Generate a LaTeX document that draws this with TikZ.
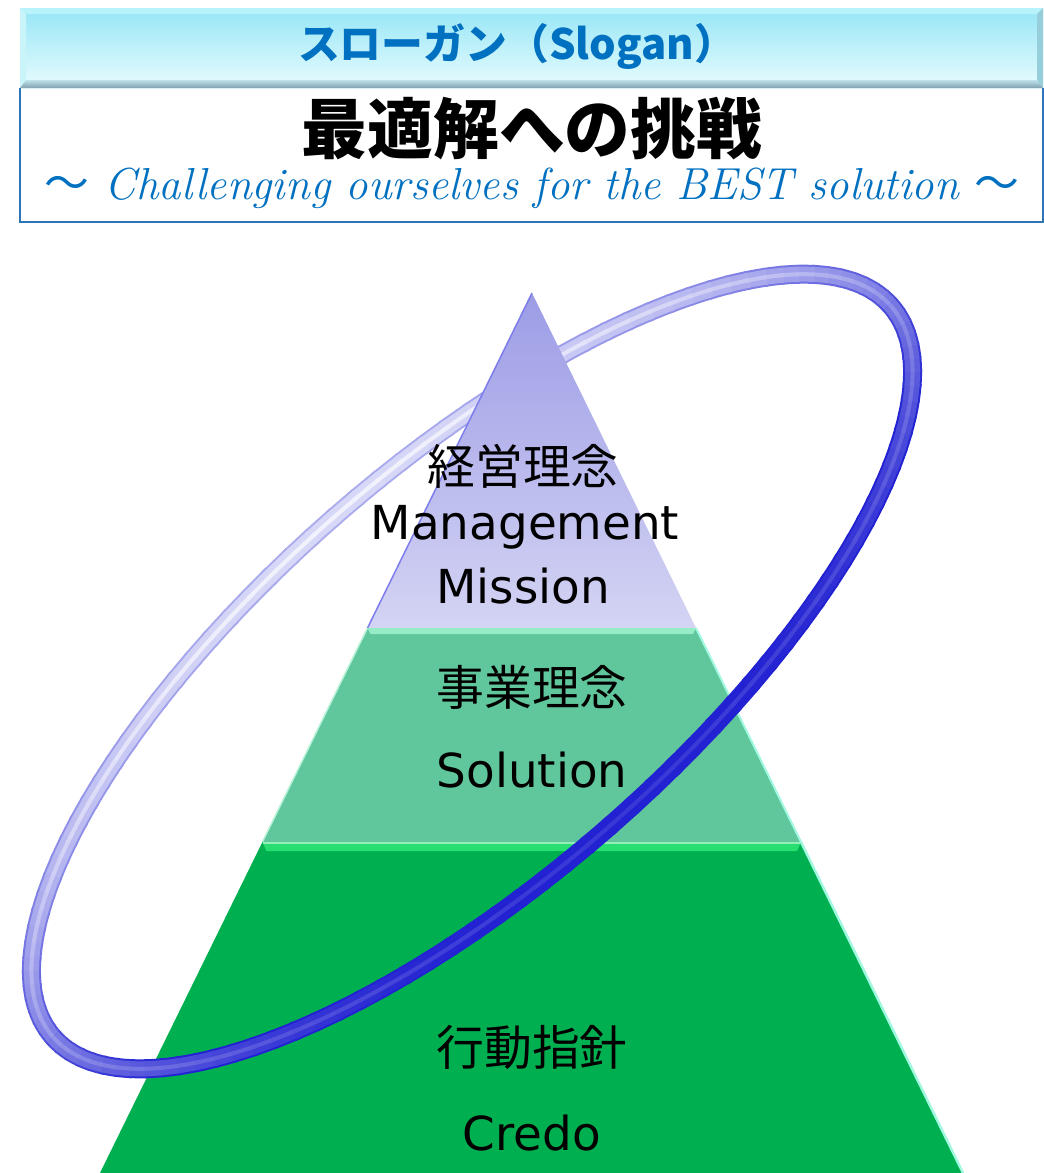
\documentclass[tikz,border=0pt]{standalone}
\usepackage{fontspec}
\newfontfamily\dejavu{DejaVu Sans}
\newfontfamily\cjk{Noto Sans CJK JP}
\definecolor{ringblue}{RGB}{34,34,210}
\definecolor{sloganblue}{RGB}{0,112,192}
\definecolor{boxblue}{RGB}{46,117,182}
\definecolor{capTop}{RGB}{156,156,230}
\definecolor{capBot}{RGB}{212,212,244}
\definecolor{midGreen}{RGB}{96,198,156}
\definecolor{midRim}{RGB}{150,236,196}
\definecolor{baseGreen}{RGB}{0,176,80}
\definecolor{baseRim}{RGB}{40,222,112}
\definecolor{edgeCyan}{RGB}{160,248,224}
\definecolor{bannerTop}{RGB}{150,230,246}
\definecolor{bannerBot}{RGB}{232,252,254}
\definecolor{bevelTop}{RGB}{184,242,250}
\definecolor{bevelSide}{RGB}{200,244,250}
\definecolor{bevelRight}{RGB}{150,206,220}
\definecolor{bevelLowA}{RGB}{190,226,234}
\definecolor{bevelLowB}{RGB}{128,160,176}

% one pass of the tube, drawn as short arcs so that the tint can follow the angle
\newcommand\ringpass[5]{%
  \foreach \t in {#1,#2,...,#3}{%
    \pgfmathsetmacro\q{min(100,max(4,60-42*sin(\t)+#5))}%
    \pgfmathsetmacro\te{\t+3.6}%
    \draw[line width=#4, ringblue!\q!white]
      plot[domain=\t:\te, samples=6, smooth] ({556*cos(\x)},{207*sin(\x)});}}
\newcommand\ringhalf[3]{%
  \begin{scope}[shift={(472,671.5)}, x=1bp, y=1bp, rotate=41.09]
    \ringpass{#1}{#2}{#3}{19bp}{20}
    \ringpass{#1}{#2}{#3}{15bp}{0}
    \ringpass{#1}{#2}{#3}{4bp}{-12}
  \end{scope}}

\tikzset{
  lbl/.style={inner sep=0pt, text=black, align=center},
  cjklbl/.style={lbl, font=\cjk\fontsize{48}{56}\selectfont},
  latlbl/.style={lbl, font=\dejavu\fontsize{47}{56}\selectfont},
}

\begin{document}
\begin{tikzpicture}[x=1bp, y=-1bp]
\useasboundingbox (0,0) rectangle (1044,1173);
\fill[white] (0,0) rectangle (1044,1173);

% slogan banner with bevelled rim
\shade[top color=bannerTop, bottom color=bannerBot] (20,8) rectangle (1043,88);
\fill[bevelTop] (20,8) -- (1043,8) -- (1037,14) -- (26,14) -- cycle;
\fill[bevelSide] (20,8) -- (26,14) -- (26,80) -- (20,88) -- cycle;
\fill[bevelRight] (1043,8) -- (1037,14) -- (1037,80) -- (1043,88) -- cycle;
\shade[top color=bevelLowA, bottom color=bevelLowB]
  (20,88) -- (26,80) -- (1037,80) -- (1043,88) -- cycle;
\node[font=\cjk\bfseries\fontsize{42}{48}\selectfont, text=sloganblue, inner sep=0pt]
  (slogan) at (517,46) {スローガン（Slogan）};

% white box with the motto
\draw[boxblue, line width=1.5bp] (20,88) -- (20,222) -- (1043,222) -- (1043,88);
\node[font=\cjk\bfseries\fontsize{66}{72}\selectfont, inner sep=0pt]
  (motto) at (532,129) {最適解への挑戦};
\node[font=\itshape\fontsize{45}{50}\selectfont, text=sloganblue, inner sep=0pt]
  (mottoen) at (532,188) {{\cjk ～} Challenging ourselves for the BEST solution {\cjk ～}};

% back half of the ring
\ringhalf{0}{3}{177}

% pyramid
\shade[top color=capTop, bottom color=capBot]
  (532,293) -- (696,628) -- (367.5,628) -- cycle;
\draw[capTop!80!blue, line width=1.5bp] (532,293) -- (367.5,628);
\fill[midGreen] (367.5,628) -- (696,628) -- (801,842) -- (262.4,842) -- cycle;
\fill[midRim] (367.5,628) -- (696,628) -- (693,634) -- (370.5,634) -- cycle;
\draw[edgeCyan, line width=2bp] (696,628) -- (801,842);
\draw[midRim!70!white, line width=1.5bp] (367.5,628) -- (262.4,842);
\fill[baseGreen] (262.4,842) -- (801,842) -- (963,1173) -- (100,1173) -- cycle;
\fill[baseRim] (262.4,842) -- (801,842) -- (797,851) -- (266.4,851) -- cycle;
\draw[baseRim!50!white, line width=1.5bp] (263,843) -- (800,843);
\draw[edgeCyan, line width=2.5bp] (801,842) -- (963,1173);

% front half of the ring
\ringhalf{180}{183}{357}

% labels
\node[cjklbl] (mgtj) at (523,466) {経営理念};
\node[latlbl] (mgt) at (525,527) {Management};
\node[latlbl] (mis) at (523,586) {Mission};
\node[cjklbl] (solj) at (532,687) {事業理念};
\node[latlbl] (sol) at (532,770) {Solution};
\node[cjklbl] (crej) at (532,1047) {行動指針};
\node[latlbl] (cre) at (532,1133) {Credo};
\end{tikzpicture}
\end{document}
